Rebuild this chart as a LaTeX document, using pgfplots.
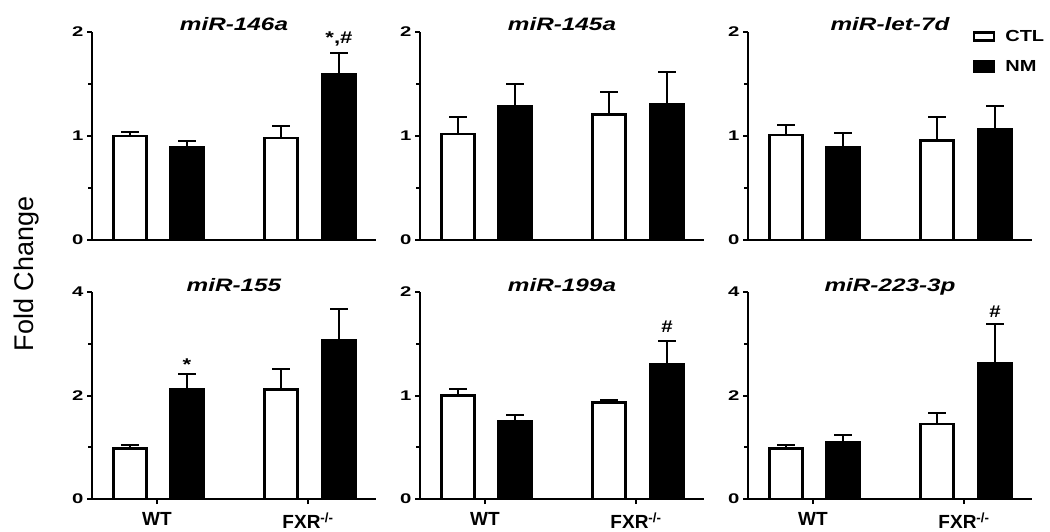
\documentclass[border=0pt]{standalone}
\usepackage{fontspec}
\setmainfont{Liberation Sans}
\usepackage{graphicx}
\usepackage{pgfplots}
\pgfplotsset{compat=1.18}

\tikzset{ann/.style={font=\fontsize{17}{17}\selectfont\bfseries, anchor=base},
  ttl/.style={font=\fontsize{18}{18}\selectfont\bfseries\itshape, anchor=base, yshift=1pt}}
\pgfplotsset{
 panel/.style={
  scale only axis, width=284pt, height=208pt,
  axis x line*=bottom, axis y line*=left,
  axis line style={line width=2pt},
  xmin=0, xmax=284, ymin=0,
  ybar, bar shift=0pt, bar width=33,
  tick align=outside, major tick length=5pt, minor tick length=4pt,
  every tick/.style={line width=2pt, black},
  tick label style={font=\fontsize{14}{14}\selectfont\bfseries},
  yticklabel={\scalebox{1.45}[1]{\pgfmathprintnumber{\tick}}},
  /pgf/number format/assume math mode=true,
  clip=false,
  xtick=\empty,
  minor y tick num=1,
 },
 bottomrow/.style={
  height=207pt,
  xtick={65,216}, xticklabels={WT, FXR\textsuperscript{-/-}},
  xticklabel style={font=\fontsize{19}{19}\selectfont\bfseries, yshift=-5pt},
 },
 ebar/.style={error bars/.cd, y dir=plus, y explicit,
  error bar style={line width=1.8pt, black},
  error mark options={line width=2pt, mark size=9pt, black, rotate=90}},
 ctl/.style={draw=black, fill=white, line width=2.8pt, ebar,
  /pgfplots/legend image code/.code={\draw[line width=2.5pt, fill=white, draw=black] (0pt,-4pt) rectangle (20pt,4pt);}},
 nm/.style={draw=black, fill=black, line width=2.8pt, ebar,
  /pgfplots/legend image code/.code={\draw[line width=1pt, fill=black, draw=black] (0pt,-6pt) rectangle (21pt,6pt);}},
}

\begin{document}
\begin{tikzpicture}[x=1pt,y=1pt]
\path[use as bounding box] (0,0) rectangle (1050,531);

\node[rotate=90, anchor=base, font=\fontsize{27}{27}\selectfont] at (33,257) {Fold Change};

% ---- top row ----
\begin{axis}[panel, at={(92pt,291pt)}, anchor=south west, ymax=2, ytick={0,1,2}]
\addplot[ctl] coordinates {(38,1.00) +- (0,0.035) (189,0.98) +- (0,0.12)};
\addplot[nm] coordinates {(95,0.89) +- (0,0.06) (247,1.59) +- (0,0.21)};
\node[ann] at (axis cs:247,1.80) [yshift=9pt] {\scalebox{1.3}[1]{*,\#}};
\node[ttl] at (rel axis cs:0.5,1) {\scalebox{1.35}[1]{miR-146a}};
\end{axis}

\begin{axis}[panel, at={(420pt,291pt)}, anchor=south west, ymax=2, ytick={0,1,2}]
\addplot[ctl] coordinates {(38,1.02) +- (0,0.16) (189,1.21) +- (0,0.21)};
\addplot[nm] coordinates {(95,1.28) +- (0,0.22) (247,1.30) +- (0,0.32)};
\node[ttl] at (rel axis cs:0.5,1) {\scalebox{1.35}[1]{miR-145a}};
\end{axis}

\begin{axis}[panel, at={(748pt,291pt)}, anchor=south west, ymax=2, ytick={0,1,2},
  legend entries={\scalebox{1.25}[1]{CTL},\scalebox{1.25}[1]{NM}}, legend cell align=left,
  legend style={at={(rel axis cs:0.79,1.02)}, anchor=north west, draw=none, fill=none,
    font=\fontsize{16}{16}\selectfont\bfseries, row sep=14pt, inner sep=0pt,
    nodes={inner xsep=10pt}}]
\addplot[ctl] coordinates {(38,1.01) +- (0,0.10) (189,0.96) +- (0,0.22)};
\addplot[nm] coordinates {(95,0.89) +- (0,0.14) (247,1.06) +- (0,0.23)};
\node[ttl] at (rel axis cs:0.5,1) {\scalebox{1.35}[1]{miR-let-7d}};
\end{axis}

% ---- bottom row ----
\begin{axis}[panel, bottomrow, at={(92pt,32pt)}, anchor=south west, ymax=4, ytick={0,2,4}]
\addplot[ctl] coordinates {(38,0.97) +- (0,0.08) (189,2.11) +- (0,0.40)};
\addplot[nm] coordinates {(95,2.11) +- (0,0.31) (247,3.06) +- (0,0.62)};
\node[ann] at (axis cs:95,2.42) [yshift=3pt] {\scalebox{1.3}[1]{*}};
\node[ttl] at (rel axis cs:0.5,1) {\scalebox{1.35}[1]{miR-155}};
\end{axis}

\begin{axis}[panel, bottomrow, at={(420pt,32pt)}, anchor=south west, ymax=2, ytick={0,1,2}]
\addplot[ctl] coordinates {(38,1.00) +- (0,0.065) (189,0.93) +- (0,0.03)};
\addplot[nm] coordinates {(95,0.75) +- (0,0.06) (247,1.30) +- (0,0.23)};
\node[ann] at (axis cs:247,1.53) [yshift=8pt] {\scalebox{1.2}[1]{\#}};
\node[ttl] at (rel axis cs:0.5,1) {\scalebox{1.35}[1]{miR-199a}};
\end{axis}

\begin{axis}[panel, bottomrow, at={(748pt,32pt)}, anchor=south west, ymax=4, ytick={0,2,4}]
\addplot[ctl] coordinates {(38,0.98) +- (0,0.07) (189,1.45) +- (0,0.22)};
\addplot[nm] coordinates {(95,1.09) +- (0,0.15) (247,2.63) +- (0,0.75)};
\node[ann] at (axis cs:247,3.38) [yshift=7pt] {\scalebox{1.2}[1]{\#}};
\node[ttl] at (rel axis cs:0.5,1) {\scalebox{1.35}[1]{miR-223-3p}};
\end{axis}
\end{tikzpicture}
\end{document}
